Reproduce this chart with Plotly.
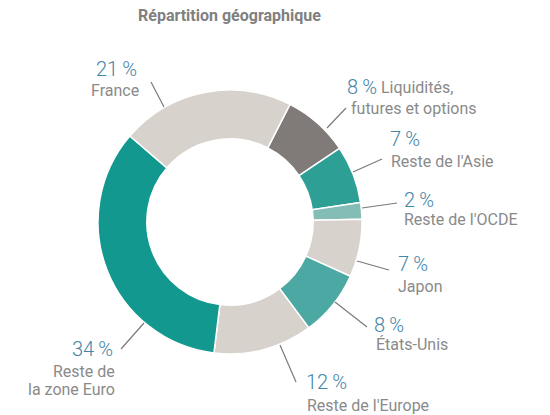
import plotly.graph_objects as go

W, H = 550, 415

categories = ["Liquidités, futures et options", "Reste de l'Asie", "Reste de l'OCDE",
              "Japon", "États-Unis", "Reste de l'Europe", "Reste de la zone Euro", "France"]
values = [8, 7, 2, 7, 8, 12, 34, 21]
pct_labels = ["8\u2009%", "7\u2009%", "2\u2009%", "7\u2009%", "8\u2009%", "12\u2009%", "34\u2009%", "21\u2009%"]
colors = ["#807a79", "#2e9f95", "#84bcb6", "#d8d2cc", "#4ca8a2", "#d8d2cc", "#12988e", "#d8d2cc"]

def px(x):
    return x / W

def py(y):
    return 1 - y / H

cx, cy, R = 230, 222, 132

fig = go.Figure(go.Pie(
    labels=categories, values=values, sort=False, direction="clockwise", rotation=27,
    hole=0.63, textinfo="none", hoverinfo="label+percent",
    marker=dict(colors=colors, line=dict(color="white", width=1.5)),
    domain=dict(x=[px(cx - R), px(cx + R)], y=[py(cy + R), py(cy - R)]),
    showlegend=False,
))

PCT_FONT = dict(family="Roboto, Open Sans", size=20, color="#4585a8", weight=300)
LBL_FONT = dict(family="Roboto, Open Sans", size=16, color="#8a8a8a")

ann = []

def add(text, x, y, font, xanchor="left"):
    ann.append(dict(text=text, x=px(x), y=py(y), xref="paper", yref="paper",
                    xanchor=xanchor, yanchor="middle", showarrow=False, font=font))

placements = [
    (345, 87, ["Liquidités,"], 379, 87, "left"),
    (388, 139, ["Reste de l'Asie"], 389, 161, "left"),
    (402, 200, ["Reste de l'OCDE"], 402, 219, "left"),
    (396, 264, ["Japon"], 396, 286, "left"),
    (372, 325, ["États-Unis"], 374, 344, "left"),
    (304, 382, ["Reste de l'Europe"], 305, 405, "left"),
    (115, 349, ["Reste de", "la zone Euro"], 117, 371, "right"),
    (139, 69, ["France"], 141, 90, "right"),
]

for pct, (pxx, pyy, lines, lx, ly, anc) in zip(pct_labels, placements):
    add(pct, pxx, pyy, PCT_FONT, anc)
    for i, line in enumerate(lines):
        add(line, lx, ly + i * 18, LBL_FONT, anc)
add("futures et options", 349, 108, LBL_FONT, "left")

leaders = [
    (327, 128, 346, 108),
    (353, 172, 382, 159),
    (362, 208, 397, 203),
    (357, 261, 389, 270),
    (335, 302, 367, 327),
    (280, 345, 296, 382),
    (144, 323, 121, 349),
    (164, 107, 151, 82),
]
shapes = [dict(type="line", xref="paper", yref="paper", x0=px(a), y0=py(b), x1=px(c), y1=py(d),
               line=dict(color="#7a7a7a", width=1.2)) for a, b, c, d in leaders]

ann.append(dict(text="<b>Répartition géographique</b>", x=px(230), y=py(16), xref="paper", yref="paper",
                xanchor="center", yanchor="middle", showarrow=False,
                font=dict(family="Roboto, Open Sans", size=16, color="#808080")))

fig.update_layout(width=W, height=H, margin=dict(l=0, r=0, t=0, b=0),
                  paper_bgcolor="white", plot_bgcolor="white",
                  annotations=ann, shapes=shapes)

fig.write_html("out.html", config={"displayModeBar": False},
               post_script="document.body.style.margin='0px';")
